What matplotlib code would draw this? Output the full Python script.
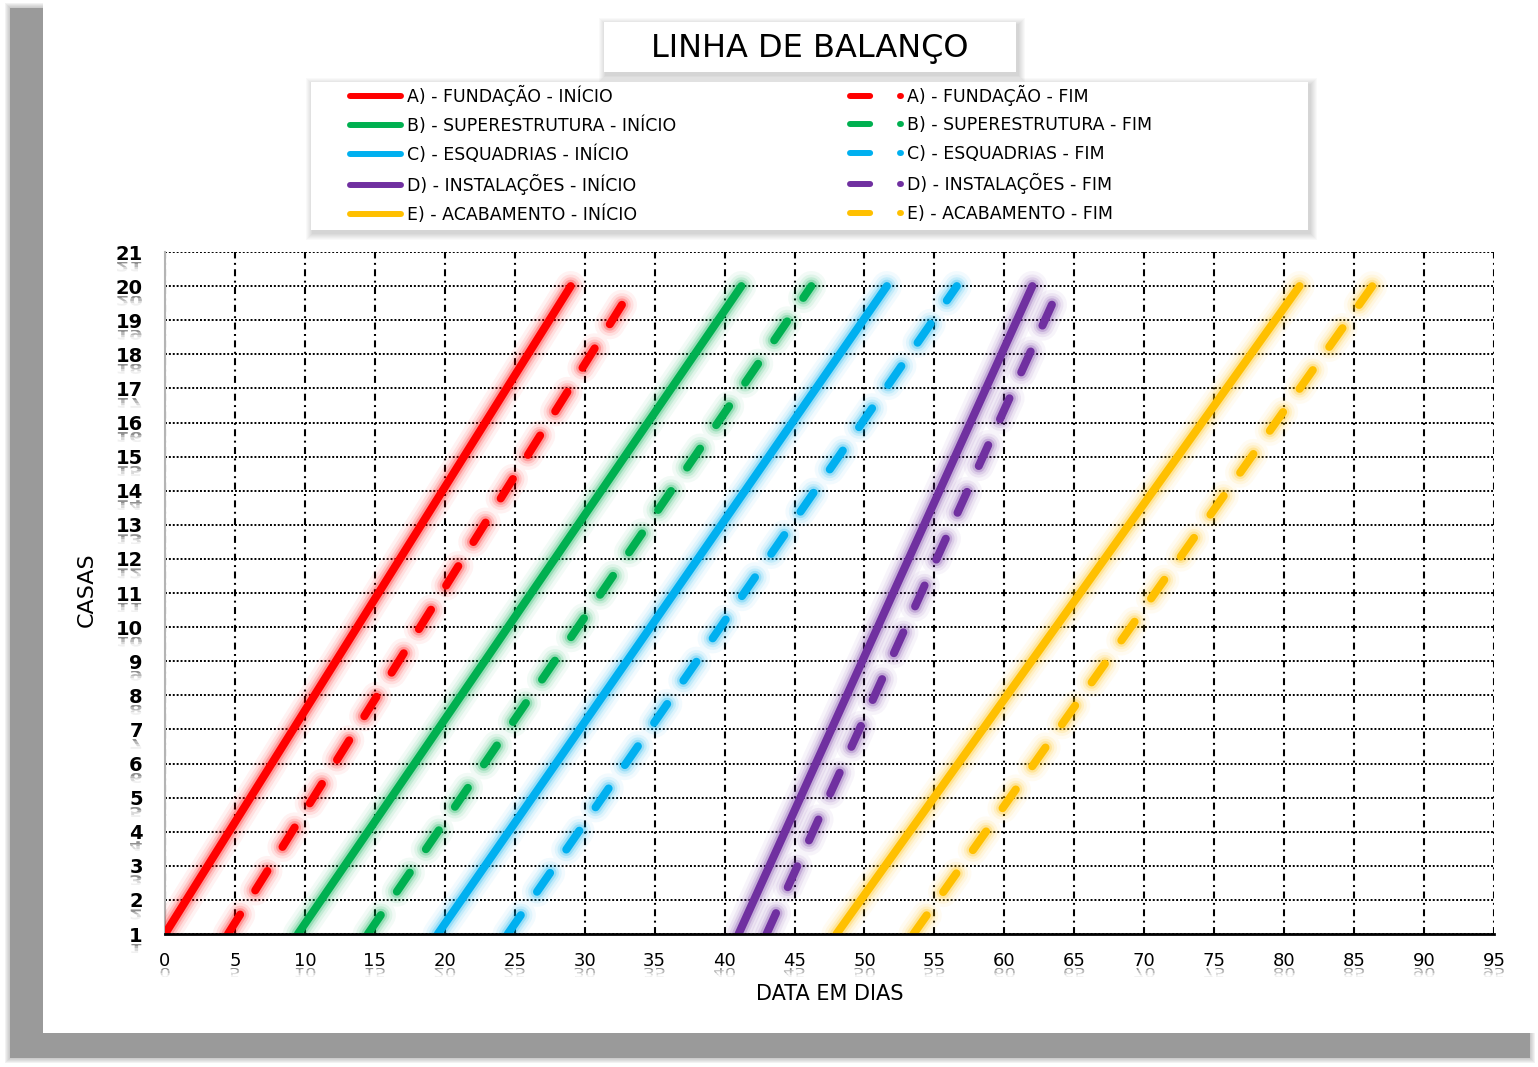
import numpy as np
import matplotlib
matplotlib.use('Agg')
import matplotlib.pyplot as plt
import matplotlib.patheffects as pe
from matplotlib.patches import Rectangle, PathPatch
from matplotlib.lines import Line2D
from matplotlib.textpath import TextPath
from matplotlib.transforms import Affine2D, Bbox

plt.rcParams['font.family'] = ['DejaVu Sans']
plt.rcParams['lines.scale_dashes'] = False

W, H = 1538, 1067

# dados (dias em que cada atividade atinge a casa 1 e a casa 20)
atividades = ['A) - Fundação', 'B) - Superestrutura', 'C) - Esquadrias',
              'D) - Instalações', 'E) - Acabamento']
cores = ['#ff0000', '#00b050', '#00b0f0', '#7030a0', '#ffc000']
casas = [1, 20]
inicio_casa1 = [0, 9.5, 19.5, 41, 48]
inicio_casa20 = [29, 41.2, 51.6, 62, 81.1]
fim_casa1 = [4.5, 14.5, 24.5, 43, 53.5]
fim_casa20 = [33.5, 46.2, 56.6, 64, 86.3]
x_ticks = list(range(0, 96, 5))
y_ticks = list(range(1, 22))

fig = plt.figure(figsize=(W / 100, H / 100), dpi=100)
px = Affine2D().scale(1, -1).translate(0, H)  # pixels, origem no topo


def box(x0, y0, x1, y1, color, z, alpha=1.0):
    r = Rectangle((x0, y0), x1 - x0, y1 - y0, transform=px, facecolor=color,
                  edgecolor='none', alpha=alpha, zorder=z)
    fig.add_artist(r)


def shadow_box(x0, y0, x1, y1, z):
    for i in range(1, 8):
        box(x0 - i + 2, y0 - i + 3, x1 + i + 2, y1 + i + 3, '#000000', z - 0.5, 0.025)
    box(x0, y0, x1, y1, 'white', z)


# fundo com sombra
for i in range(1, 6):
    box(10 - i, 8 - i, 1530 + i, 1058 + i, '#9a9a9a', -12, 0.12)
box(10, 8, 1530, 1058, '#9a9a9a', -11)
box(43, 3, 1536, 1033, 'white', -10)

ax = fig.add_axes([165 / W, 1 - 934 / H, (1494 - 165) / W, (934 - 252) / H])
ax.patch.set_alpha(0)
ax.set_xlim(0, 95)
ax.set_ylim(1, 21)


def glow(c):
    return [pe.Stroke(linewidth=5.8 + w, foreground=c, alpha=a)
            for w, a in ((16, 0.05), (11, 0.08), (7, 0.12), (3.5, 0.22))] + [pe.Normal()]


for i in range(len(atividades)):
    ax.plot([inicio_casa1[i], inicio_casa20[i]], casas, color=cores[i], lw=5.8,
            solid_capstyle='round', path_effects=glow(cores[i]), zorder=3)
    ax.plot([fim_casa1[i], fim_casa20[i]], casas, color=cores[i], lw=5.8,
            ls=(0, (16.5, 20.5)), dash_capstyle='round',
            path_effects=glow(cores[i]), zorder=3)

ax.set_xticks(x_ticks)
ax.set_yticks(y_ticks)
ax.set_xticklabels([str(v) for v in x_ticks], fontsize=13)
ax.set_yticklabels([str(v) for v in y_ticks], fontsize=14, fontweight='bold')
ax.tick_params(length=0)
ax.tick_params(axis='x', pad=13)
ax.tick_params(axis='y', pad=16)
ax.grid(axis='x', color='black', lw=1.5, ls=(0, (5, 3.2, 1.4, 3.2)))
ax.grid(axis='y', color='black', lw=1.4, ls=(0, (1.4, 1.4)))
for s in ['top', 'right']:
    ax.spines[s].set_visible(False)
ax.spines['left'].set_color('#b4b4b4')
ax.spines['left'].set_linewidth(1.5)
ax.spines['bottom'].set_color('black')
ax.spines['bottom'].set_linewidth(2)
ax.spines['bottom'].set_zorder(4)

ax.set_xlabel('Data em dias'.upper(), fontsize=15, va='center')
ax.xaxis.set_label_coords(0.5, -(994 - 934) / 682)
ax.set_ylabel('Casas'.upper(), fontsize=16, va='center')
ax.yaxis.set_label_coords((87 - 165) / 1329, (934 - 590) / 682)

# titulo
shadow_box(604, 22, 1016, 72, 2)
fig.text(810 / W, 1 - 48 / H, 'Linha de Balanço'.upper(), fontsize=23,
         ha='center', va='center', zorder=5)

# legenda
shadow_box(311, 82, 1308, 230, 2)
h_ini = [Line2D([], [], color=c, lw=4.3, solid_capstyle='round') for c in cores]
h_fim = [Line2D([], [], color=c, lw=4.3, ls=(0, (14.5, 21.5)), dash_capstyle='round')
         for c in cores]
kw = dict(loc='upper left', frameon=False, fontsize=12.5, handlelength=2.95,
          handletextpad=0.35, labelspacing=0.6, borderpad=0, borderaxespad=0)
leg1 = fig.legend(h_ini, [(a + ' - Início').upper() for a in atividades],
                  bbox_to_anchor=(350 / W, 1 - 85 / H), **kw)
leg2 = fig.legend(h_fim, [(a + ' - Fim').upper() for a in atividades],
                  bbox_to_anchor=(850 / W, 1 - 85 / H), **kw)
leg1.set_zorder(5)
leg2.set_zorder(5)

# reflexo dos rotulos dos eixos
fig.canvas.draw()
renderer = fig.canvas.get_renderer()


def reflect(lab, k):
    bb = lab.get_window_extent(renderer)
    fp = lab.get_fontproperties()
    size = fp.get_size_in_points() * fig.dpi / 72
    d = renderer.get_text_width_height_descent('lp', fp, ismath=False)[2]
    tp = TextPath((0, 0), lab.get_text(), size=size, prop=fp)
    ext = tp.get_extents()
    top = bb.y0 + d - 2
    tr = Affine2D().scale(1, -k).translate(bb.x0, top)
    hgt = ext.y1 * k
    alphas = [0.6, 0.38, 0.2, 0.08]
    n = len(alphas)
    for j, a in enumerate(alphas):
        p = PathPatch(tp, transform=tr, facecolor='#444444', edgecolor='none',
                      alpha=a, zorder=1)
        fig.add_artist(p)
        p.set_clip_box(Bbox.from_extents(bb.x0 - 5, top - hgt * (j + 1) / n,
                                         bb.x1 + 5, top - hgt * j / n))


for lab in ax.get_yticklabels():
    reflect(lab, 0.7)
for lab in ax.get_xticklabels():
    reflect(lab, 0.7)

fig.savefig('out.png', dpi=100)
